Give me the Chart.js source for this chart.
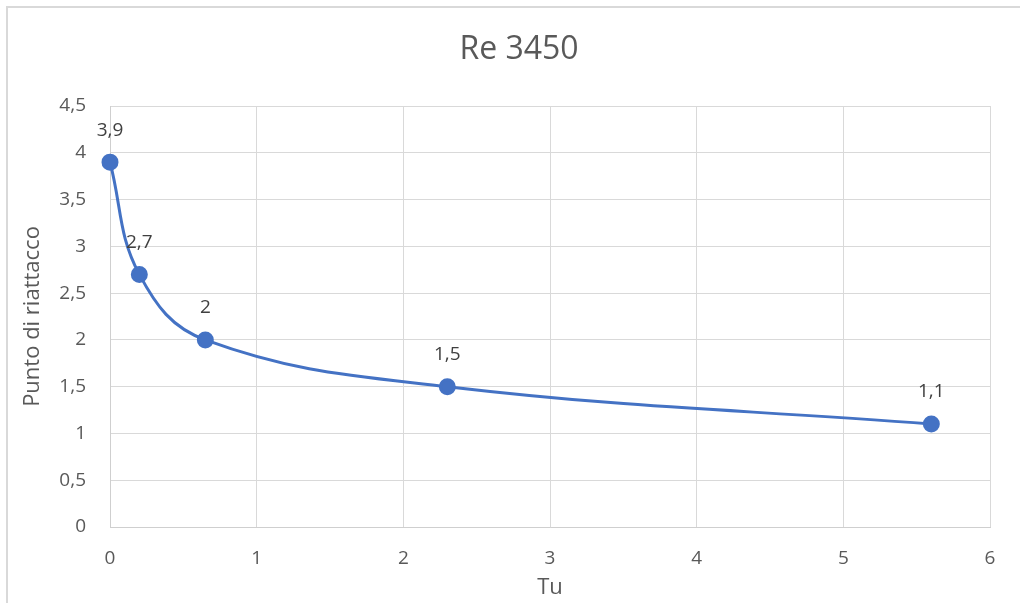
<!DOCTYPE html>
<html>
<head>
<meta charset="utf-8">
<title>Re 3450</title>
<script src="https://cdn.jsdelivr.net/npm/chart.js@4/dist/chart.umd.min.js"></script>
<style>
  html, body { margin: 0; padding: 0; background: #ffffff; }
  #wrap { position: relative; width: 1020px; height: 603px; overflow: hidden; }
  #frame {
    position: absolute; left: 6px; top: 6px; width: 1030px; height: 620px;
    border-left: 2px solid #d9d9d9; border-top: 2px solid #d9d9d9;
    box-sizing: border-box; pointer-events: none;
  }
  canvas { position: absolute; left: 0; top: 0; }
</style>
</head>
<body>
<div id="wrap">
  <canvas id="chart" width="1020" height="603"></canvas>
  <div id="frame"></div>
</div>
<script>
// Turbulence intensity (Tu) and reattachment point at Re 3450
const tuValues = [0, 0.2, 0.65, 2.3, 5.6];
const reattachPoint = [3.9, 2.7, 2, 1.5, 1.1];

const chartTitle = 'Re 3450';
const xTitle = 'Tu';
const yTitle = 'Punto di riattacco';

const FONT = '"Open Sans", "Noto Sans", sans-serif';
const TEXT = '#595959';
const GRID = '#d9d9d9';
const LINE = '#4472c4';

const decimalComma = v => String(v).replace('.', ',');

// Chart heading, centred over the whole frame
const heading = {
  id: 'heading',
  afterDraw(chart) {
    const ctx = chart.ctx;
    ctx.save();
    ctx.font = '32px ' + FONT;
    ctx.fillStyle = TEXT;
    ctx.textAlign = 'center';
    ctx.textBaseline = 'middle';
    ctx.fillText(chartTitle, 519, 50);
    ctx.restore();
  }
};

// Writes each point's value just above its marker
const valueLabels = {
  id: 'valueLabels',
  afterDatasetsDraw(chart) {
    const ctx = chart.ctx;
    const meta = chart.getDatasetMeta(0);
    const ds = chart.data.datasets[0];
    ctx.save();
    ctx.font = '19px ' + FONT;
    ctx.fillStyle = '#404040';
    ctx.textAlign = 'center';
    ctx.textBaseline = 'middle';
    meta.data.forEach((pt, i) => {
      ctx.fillText(decimalComma(ds.data[i].y), pt.x, pt.y - 32);
    });
    ctx.restore();
  }
};

new Chart(document.getElementById('chart'), {
  type: 'scatter',
  data: {
    datasets: [{
      data: tuValues.map((x, i) => ({ x: x, y: reattachPoint[i] })),
      showLine: true,
      tension: 0.4,
      borderColor: LINE,
      borderWidth: 3,
      backgroundColor: LINE,
      pointBackgroundColor: LINE,
      pointBorderColor: LINE,
      pointRadius: 7,
      pointHoverRadius: 7,
      clip: false
    }]
  },
  options: {
    responsive: false,
    animation: false,
    devicePixelRatio: 1,
    layout: { padding: { left: 0, right: 30, top: 106, bottom: 0 } },
    plugins: {
      legend: { display: false },
      tooltip: { enabled: false },
      title: { display: false }
    },
    scales: {
      x: {
        type: 'linear',
        min: 0, max: 6,
        afterFit(scale) { scale.height = 76; },
        grid: { color: GRID, drawTicks: false, lineWidth: 1 },
        border: { color: '#cfcfcf', width: 1 },
        ticks: {
          stepSize: 1,
          color: TEXT,
          padding: 20,
          font: { family: FONT, size: 19 },
          callback: v => decimalComma(v)
        },
        title: {
          display: true,
          text: xTitle,
          color: TEXT,
          font: { family: FONT, size: 22 },
          padding: { top: 0, bottom: 2 }
        }
      },
      y: {
        type: 'linear',
        min: 0, max: 4.5,
        afterFit(scale) { scale.width = 110; },
        grid: { color: GRID, drawTicks: false, lineWidth: 1 },
        border: { color: '#cfcfcf', width: 1 },
        ticks: {
          stepSize: 0.5,
          color: TEXT,
          padding: 24,
          font: { family: FONT, size: 19 },
          callback: v => decimalComma(v)
        },
        title: {
          display: true,
          text: yTitle,
          color: TEXT,
          font: { family: FONT, size: 22 },
          padding: { top: 20, bottom: 0 }
        }
      }
    }
  },
  plugins: [valueLabels, heading]
});
</script>
</body>
</html>
